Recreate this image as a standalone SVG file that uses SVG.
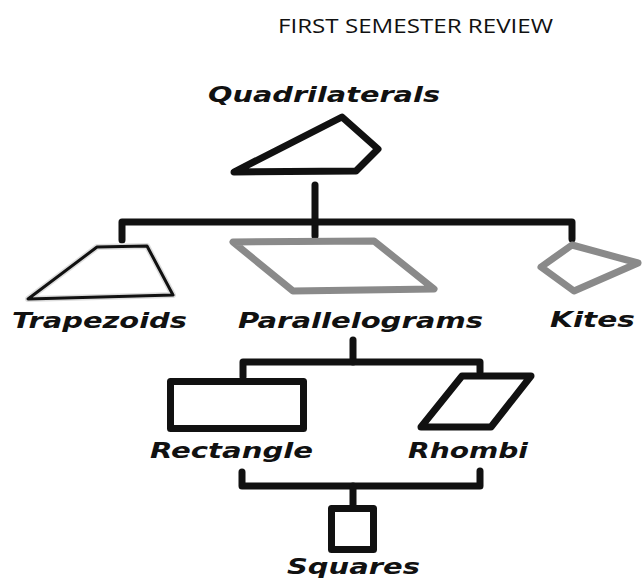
<svg xmlns="http://www.w3.org/2000/svg" width="642" height="581" viewBox="0 0 642 581">
<style>
.bg{fill:#fff}
.title{font-family:"Open Sans","Liberation Sans",sans-serif;font-size:20px;fill:#111}
.lbl{font-family:"DejaVu Sans","Liberation Sans",sans-serif;font-weight:bold;font-style:italic;font-size:21px;fill:#111}
.conn{fill:none;stroke:#111;stroke-width:7;stroke-linejoin:round;stroke-linecap:round}
.blk{fill:none;stroke:#111;stroke-width:7;stroke-linejoin:round}
.thin{fill:none;stroke:#111;stroke-width:3;stroke-linejoin:round}
.gray{fill:none;stroke:#8a8a8a;stroke-width:7;stroke-linejoin:round}
</style>
<rect class="bg" x="0" y="0" width="642" height="581"/>
<text class="title" x="278" y="33" textLength="275" lengthAdjust="spacingAndGlyphs">FIRST SEMESTER REVIEW</text>
<g id="connectors">
<path class="conn" d="M315,185 V236"/>
<path class="conn" d="M122,240 V222 H572 V239"/>
<path class="conn" d="M353,340 V362"/>
<path class="conn" d="M243,377 V362 H480 V372"/>
<path class="conn" d="M242,472 V486 H480 V471"/>
<path class="conn" d="M353,486 V506"/>
</g>
<g id="quadrilaterals">
<polygon class="blk" points="234,172 342,117 378,149 356,171"/>
<text class="lbl" x="208" y="102" textLength="232" lengthAdjust="spacingAndGlyphs">Quadrilaterals</text>
</g>
<g id="trapezoids">
<polygon fill="none" stroke="#ddd" stroke-width="6" stroke-linejoin="round" points="28,299 97,247 147,246 173,295"/>
<polygon class="thin" points="28,299 97,247 147,246 173,295"/>
<text class="lbl" x="12" y="328" textLength="175" lengthAdjust="spacingAndGlyphs">Trapezoids</text>
</g>
<g id="parallelograms">
<polygon class="gray" points="233,242 374,241 434,289 293,291"/>
<text class="lbl" x="238" y="328" textLength="245" lengthAdjust="spacingAndGlyphs">Parallelograms</text>
</g>
<g id="kites">
<polygon class="gray" points="541,267 572,245 638,263 574,291"/>
<text class="lbl" x="550" y="327" textLength="85" lengthAdjust="spacingAndGlyphs">Kites</text>
</g>
<g id="rectangle">
<rect class="blk" x="170.5" y="381.5" width="133" height="47"/>
<text class="lbl" x="150" y="458" textLength="163" lengthAdjust="spacingAndGlyphs">Rectangle</text>
</g>
<g id="rhombi">
<polygon class="blk" points="462,376 531,376 491,427 421,427"/>
<text class="lbl" x="408" y="458" textLength="120" lengthAdjust="spacingAndGlyphs">Rhombi</text>
</g>
<g id="squares">
<rect class="blk" x="331.5" y="508.5" width="42" height="41"/>
<text class="lbl" x="287" y="574" font-size="20" textLength="133" lengthAdjust="spacingAndGlyphs">Squares</text>
</g>
</svg>
